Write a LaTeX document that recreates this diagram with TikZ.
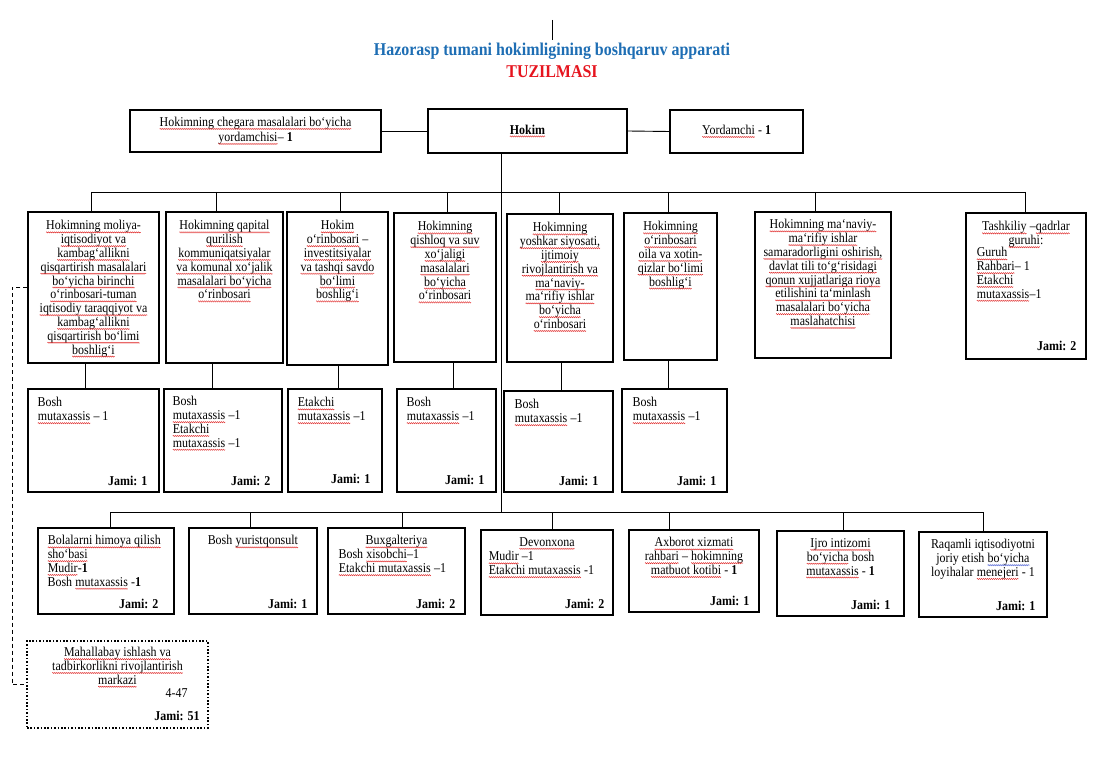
\documentclass[tikz,border=0pt]{standalone}
\usepackage{fontspec}
\setmainfont{Liberation Serif}[FakeStretch=0.886]
\usetikzlibrary{fit,calc,decorations.pathmorphing}
\definecolor{ttlblue}{RGB}{30,110,180}
\definecolor{ttlred}{RGB}{230,20,30}
\definecolor{sqred}{RGB}{225,50,50}
\definecolor{sqblue}{RGB}{70,90,210}
\tikzset{squig/.style={line width=0.45pt, decorate, decoration={zigzag, amplitude=0.6pt, segment length=2pt}}}
\newcommand\wavy[2]{\tikz[baseline=(rwx.base)]{\node[inner sep=0pt, outer sep=0pt, anchor=base] (rwx) {#2}; \draw[squig, #1] ([yshift=-2.4pt]rwx.base west) -- ([yshift=-2.4pt]rwx.base east);}}
\newcommand\rw[1]{\wavy{sqred}{#1}}
\newcommand\bw[1]{\wavy{sqblue}{#1}}
\newcommand\mybox[5]{\node[box, fit={(#2,#3) (#4,#5)}] (#1) {};}
\newcommand\myjami[4]{\node[jami] (#1-j) at ([shift={(-#3pt,#4pt)}]#1.south east) {Jami: #2};}
\newcommand\vlink[3]{\coordinate (vx#1) at (#3,0); \draw[link] (vx#1 |- #1.south) -- (vx#1 |- #2.north);}
\newcommand\dropto[3]{\coordinate (dx#1) at (#2,#3); \draw[link] (dx#1) -- (dx#1 |- #1.north);}
\begin{document}
\begin{tikzpicture}[x=1pt,y=-1pt,
  box/.style={draw, line width=1.2pt, inner sep=0pt},
  dotbox/.style={draw, line width=1.6pt, dash pattern=on 1.6pt off 1.8pt, inner sep=0pt},
  link/.style={line width=0.9pt},
  dlink/.style={line width=0.9pt, dash pattern=on 4pt off 3pt},
  ctext/.style={inner sep=0pt, align=center, font=\fontsize{13.5}{13.8}\selectfont},
  ltext/.style={inner sep=0pt, align=left, font=\fontsize{13.5}{13.8}\selectfont},
  jami/.style={inner sep=0pt, anchor=base east, font=\fontsize{13.5}{13.8}\selectfont\bfseries},
  ttl/.style={inner sep=0pt, font=\fontsize{18}{20}\selectfont\bfseries},
]
\useasboundingbox (0,0) rectangle (1108,783);
\fill[white] (0,0) rectangle (1108,783);

% title
\coordinate (tk1) at (552,20);
\coordinate (tk2) at (552,40);
\draw[link] (tk1) -- (tk2);
\node[ttl, text=ttlblue] (title) at (552,51) {Hazorasp tumani hokimligining boshqaruv apparati};
\node[ttl, text=ttlred] (title2) at (552,72) {TUZILMASI};

% top row
\mybox{cheg}{130}{110}{381}{152}
\mybox{hokim}{428}{109}{627}{153}
\mybox{yord}{670}{110}{803}{153}
\node[ctext, font=\fontsize{13.5}{15}\selectfont] (cheg-t) at (cheg.center) {\rw{Hokimning chegara masalalari bo‘yicha}\\\rw{yordamchisi}– \textbf{1}};
\node[ctext] (hokim-t) at (hokim.center) {\rw{\textbf{Hokim}}};
\node[ctext] (yord-t) at (yord.center) {\rw{Yordamchi} - \textbf{1}};
\draw[link] (cheg.east) -- (hokim.west);
\draw[link] (hokim.east) -- (yord.west);

% main vertical and buses
\coordinate (hk) at (501,153);
\coordinate (hkb) at (501,512);
\draw[link] (hk) -- (hkb);
\coordinate (busL) at (91,192);
\coordinate (busR) at (1025,192);
\draw[link] (busL) -- (busR);
\coordinate (bbL) at (110,512);
\coordinate (bbR) at (983,512);
\draw[link] (bbL) -- (bbR);

% row 2
\mybox{r2a}{28}{212}{159}{363}
\mybox{r2b}{166}{212}{283}{363}
\mybox{r2c}{287}{212}{388}{365}
\mybox{r2d}{394}{213}{496}{362}
\mybox{r2e}{507}{214}{613}{362}
\mybox{r2f}{624}{213}{717}{360}
\mybox{r2g}{755}{212}{891}{358}
\mybox{r2h}{966}{213}{1086}{359}

\dropto{r2a}{91}{192}
\dropto{r2b}{216}{192}
\dropto{r2c}{340}{192}
\dropto{r2d}{447}{192}
\dropto{r2e}{559}{192}
\dropto{r2f}{668}{192}
\dropto{r2g}{815}{192}
\dropto{r2h}{1025}{192}

\node[ctext, anchor=north] (r2a-t) at ([yshift=-9pt]r2a.north) {\rw{Hokimning moliya-}\\\rw{iqtisodiyot va}\\\rw{kambag`allikni}\\\rw{qisqartirish masalalari}\\\rw{bo‘yicha birinchi}\\\rw{o‘rinbosari-tuman}\\\rw{iqtisodiy taraqqiyot va}\\\rw{kambag‘allikni}\\\rw{qisqartirish bo‘limi}\\\rw{boshlig`i}};
\node[ctext, anchor=north] (r2b-t) at ([yshift=-9pt]r2b.north) {\rw{Hokimning qapital}\\\rw{qurilish}\\\rw{kommuniqatsiyalar}\\\rw{va komunal xo‘jalik}\\\rw{masalalari bo‘yicha}\\\rw{o‘rinbosari}};
\node[ctext, anchor=north] (r2c-t) at ([yshift=-9pt]r2c.north) {\rw{Hokim}\\\rw{o‘rinbosari} –\\\rw{investitsiyalar}\\\rw{va tashqi savdo}\\\rw{bo‘limi}\\\rw{boshlig‘i}};
\node[ctext, anchor=north] (r2d-t) at ([yshift=-9pt]r2d.north) {\rw{Hokimning}\\\rw{qishloq va suv}\\\rw{xo‘jaligi}\\\rw{masalalari}\\\rw{bo‘yicha}\\\rw{o‘rinbosari}};
\node[ctext, anchor=north] (r2e-t) at ([yshift=-9pt]r2e.north) {\rw{Hokimning}\\\rw{yoshkar siyosati,}\\\rw{ijtimoiy}\\\rw{rivojlantirish va}\\\rw{ma‘naviy-}\\\rw{ma‘rifiy ishlar}\\\rw{bo‘yicha}\\\rw{o‘rinbosari}};
\node[ctext, anchor=north] (r2f-t) at ([yshift=-9pt]r2f.north) {\rw{Hokimning}\\\rw{o‘rinbosari}\\\rw{oila va xotin-}\\\rw{qizlar bo‘limi}\\\rw{boshlig‘i}};
\node[ctext, anchor=north] (r2g-t) at ([yshift=-8pt]r2g.north) {\rw{Hokimning ma‘naviy-}\\\rw{ma‘rifiy ishlar}\\\rw{samaradorligini oshirish,}\\\rw{davlat tili to‘g‘risidagi}\\\rw{qonun xujjatlariga rioya}\\\rw{etilishini ta‘minlash}\\\rw{masalalari bo‘yicha}\\\rw{maslahatchisi}};
\node[ctext, anchor=north] (r2h-t) at ([yshift=-9pt]r2h.north) {\rw{Tashkiliy} –\rw{qadrlar}\\\rw{guruhi}:};
\node[ltext, anchor=north west] (r2h-l) at ([shift={(11pt,-35pt)}]r2h.north west) {\rw{Guruh}\\\rw{Rahbari}– 1\\\rw{Etakchi}\\\rw{mutaxassis}–1};
\myjami{r2h}{2}{10}{9}

% row 3
\mybox{r3a}{28}{389}{159}{492}
\mybox{r3b}{164}{389}{282}{492}
\mybox{r3c}{288}{389}{382}{492}
\mybox{r3d}{397}{389}{496}{492}
\mybox{r3e}{504}{391}{613}{492}
\mybox{r3f}{622}{389}{727}{492}

\vlink{r2a}{r3a}{85}
\vlink{r2b}{r3b}{212}
\vlink{r2c}{r3c}{338}
\vlink{r2d}{r3d}{453}
\vlink{r2e}{r3e}{561}
\vlink{r2f}{r3f}{668}

\node[ltext, anchor=north west] (r3a-t) at ([shift={(10pt,-9pt)}]r3a.north west) {Bosh\\\rw{mutaxassis} – 1};
\node[ltext, anchor=north west] (r3b-t) at ([shift={(9pt,-8pt)}]r3b.north west) {Bosh\\\rw{mutaxassis} –1\\\rw{Etakchi}\\\rw{mutaxassis} –1};
\node[ltext, anchor=north west] (r3c-t) at ([shift={(10pt,-9pt)}]r3c.north west) {\rw{Etakchi}\\\rw{mutaxassis} –1};
\node[ltext, anchor=north west] (r3d-t) at ([shift={(10pt,-9pt)}]r3d.north west) {Bosh\\\rw{mutaxassis} –1};
\node[ltext, anchor=north west] (r3e-t) at ([shift={(11pt,-9pt)}]r3e.north west) {Bosh\\\rw{mutaxassis} –1};
\node[ltext, anchor=north west] (r3f-t) at ([shift={(11pt,-9pt)}]r3f.north west) {Bosh\\\rw{mutaxassis} –1};
\myjami{r3a}{1}{12}{7}
\myjami{r3b}{2}{12}{7}
\myjami{r3c}{1}{12}{9}
\myjami{r3d}{1}{12}{8}
\myjami{r3e}{1}{15}{7}
\myjami{r3f}{1}{11}{7}

% row 4
\mybox{r4a}{38}{528}{174}{614}
\mybox{r4b}{189}{528}{317}{614}
\mybox{r4c}{328}{528}{465}{614}
\mybox{r4d}{481}{530}{613}{615}
\mybox{r4e}{629}{530}{759}{612}
\mybox{r4f}{777}{531}{904}{616}
\mybox{r4g}{919}{532}{1047}{617}

\dropto{r4a}{110}{512}
\dropto{r4b}{250}{512}
\dropto{r4c}{402}{512}
\dropto{r4d}{552}{512}
\dropto{r4e}{669}{512}
\dropto{r4f}{843}{512}
\dropto{r4g}{983}{512}

\node[ltext, anchor=north west] (r4a-t) at ([shift={(10pt,-8pt)}]r4a.north west) {\rw{Bolalarni himoya qilish}\\\rw{sho‘basi}\\\rw{Mudir}-\textbf{1}\\Bosh \rw{mutaxassis} -\textbf{1}};
\node[ctext, anchor=north] (r4b-t) at ([yshift=-8pt]r4b.north) {Bosh \rw{yuristqonsult}};
\node[ctext, anchor=north] (r4c-h) at ([yshift=-8pt]r4c.north) {\rw{Buxgalteriya}};
\node[ltext, anchor=north west] (r4c-t) at ([shift={(11pt,-22pt)}]r4c.north west) {Bosh \rw{xisobchi}–1\\\rw{Etakchi mutaxassis} –1};
\node[ctext, anchor=north] (r4d-h) at ([yshift=-8pt]r4d.north) {\rw{Devonxona}};
\node[ltext, anchor=north west] (r4d-t) at ([shift={(8pt,-22pt)}]r4d.north west) {\rw{Mudir} –1\\\rw{Etakchi mutaxassis} -1};
\node[ctext, anchor=north] (r4e-t) at ([yshift=-8pt]r4e.north) {\rw{Axborot xizmati}\\\rw{rahbari} – \rw{hokimning}\\\rw{matbuot kotibi} - \textbf{1}};
\node[ctext, anchor=north] (r4f-t) at ([yshift=-8pt]r4f.north) {\rw{Ijro intizomi}\\\rw{bo‘yicha} bosh\\\rw{mutaxassis} - \textbf{1}};
\node[ctext, anchor=north] (r4g-t) at ([yshift=-8pt]r4g.north) {Raqamli iqtisodiyotni\\joriy etish \bw{bo‘yicha}\\loyihalar \rw{menejeri} - 1};
\myjami{r4a}{2}{16}{6}
\myjami{r4b}{1}{10}{6}
\myjami{r4c}{2}{10}{6}
\myjami{r4d}{2}{9}{7}
\myjami{r4e}{1}{10}{7}
\myjami{r4f}{1}{14}{7}
\myjami{r4g}{1}{12}{7}

% mahalla dotted box
\node[dotbox, fit={(27,641) (208,728)}] (mah) {};
\node[ctext, anchor=north] (mah-t) at ([yshift=-7pt]mah.north) {\rw{Mahallabay ishlash va}\\\rw{tadbirkorlikni rivojlantirish}\\\rw{markazi}};
\node[inner sep=0pt, anchor=base east, font=\fontsize{13.5}{13.8}\selectfont] (mah-n) at ([shift={(-21pt,31pt)}]mah.south east) {4-47};
\myjami{mah}{51}{9}{8}
\draw[dlink] (r2a.west) -- ++(-15,0) |- (mah.west);
\end{tikzpicture}
\end{document}
